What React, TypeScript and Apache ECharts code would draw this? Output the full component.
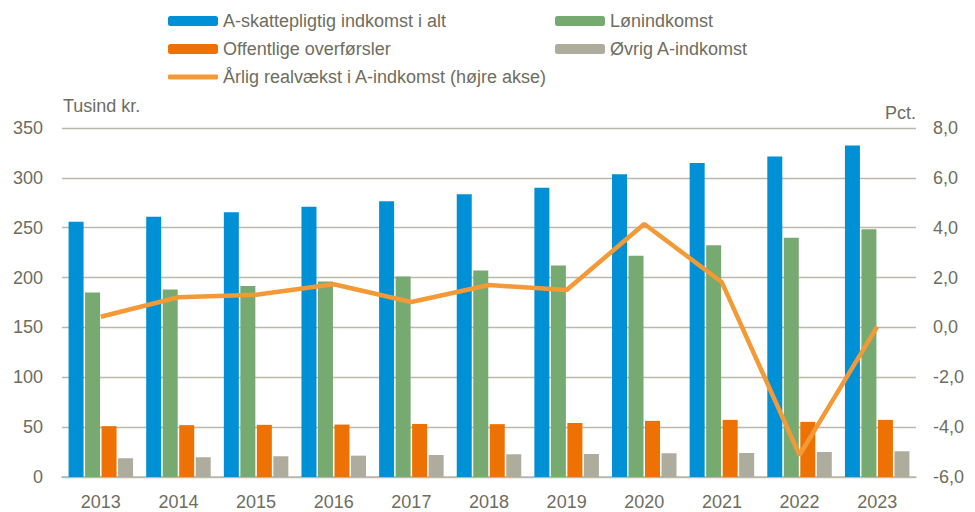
import React, { useEffect, useRef } from "react";
import * as echarts from "echarts";

const years = ["2013", "2014", "2015", "2016", "2017", "2018", "2019", "2020", "2021", "2022", "2023"];
const aSkat = [256, 261, 265.5, 271, 276.5, 283.5, 290, 303.5, 315, 321.5, 332.5];
const loen = [185, 188, 191.5, 196, 201, 207, 212, 222, 232.5, 240, 248.5];
const offentlige = [51, 52, 52.3, 52.6, 53.2, 53, 54.2, 56.3, 57.3, 55.3, 57.3];
const oevrig = [18.7, 19.8, 20.8, 21.4, 22.1, 22.8, 23.1, 23.8, 24.1, 25.1, 25.8];
const realvaekst = [0.43, 1.21, 1.31, 1.73, 1.02, 1.7, 1.5, 4.15, 1.81, -5.12, 0.03];

const names = [
  "A-skattepligtig indkomst i alt",
  "Lønindkomst",
  "Offentlige overførsler",
  "Øvrig A-indkomst",
  "Årlig realvækst i A-indkomst (højre akse)",
];

const FONT = "'Liberation Sans Narrow', 'Arial Narrow', 'Liberation Sans', Arial, sans-serif";
const TXT = "#6e6d5e";
const GRID = "#bab9aa";
const FS = 18;

export default function App() {
  const ref = useRef<HTMLDivElement>(null);
  useEffect(() => {
    if (!ref.current) return;
    const chart = echarts.init(ref.current, undefined, { renderer: "svg" });
    const legendBase = {
      itemWidth: 50,
      itemHeight: 10,
      itemGap: 5,
      textStyle: { fontFamily: FONT, fontSize: FS, color: TXT },
      selectedMode: false,
      padding: 0,
    };
    const barColors = ["#0090d6", "#77aa70", "#ee7203", "#aeac9c"];
    const barData = [aSkat, loen, offentlige, oevrig];
    chart.setOption({
      animation: false,
      textStyle: { fontFamily: FONT },
      grid: { left: 62, right: 59, top: 128, bottom: 35, containLabel: false },
      legend: [
        { ...legendBase, data: [names[0]], left: 168, top: 12 },
        { ...legendBase, data: [names[1]], left: 555, top: 12 },
        { ...legendBase, data: [names[2]], left: 168, top: 40 },
        { ...legendBase, data: [names[3]], left: 555, top: 40 },
        {
          ...legendBase,
          itemHeight: 5,
          data: [{ name: names[4], icon: "roundRect" }],
          left: 168,
          top: 68,
        },
      ],
      xAxis: {
        type: "category",
        data: years,
        axisTick: { show: false },
        axisLine: { lineStyle: { color: GRID, width: 1.5 } },
        axisLabel: { color: TXT, fontSize: FS, fontFamily: FONT, margin: 16 },
      },
      yAxis: [
        {
          type: "value",
          min: 0,
          max: 350,
          interval: 50,
          axisLabel: { color: TXT, fontSize: FS, fontFamily: FONT, margin: 19 },
          splitLine: { lineStyle: { color: GRID, width: 1.3 } },
          axisLine: { show: false },
          axisTick: { show: false },
        },
        {
          type: "value",
          min: -6,
          max: 8,
          interval: 2,
          axisLabel: {
            color: TXT,
            fontSize: FS,
            fontFamily: FONT,
            margin: 17,
            formatter: (v: number) => v.toFixed(1).replace(".", ","),
          },
          splitLine: { show: false },
          axisLine: { show: false },
          axisTick: { show: false },
        },
      ],
      graphic: [
        {
          type: "text",
          left: 63,
          top: 97,
          style: { text: "Tusind kr.", fill: TXT, font: `${FS}px ${FONT}` },
        },
        {
          type: "text",
          right: 59,
          top: 104,
          style: { text: "Pct.", fill: TXT, font: `${FS}px ${FONT}` },
        },
      ],
      series: [
        ...barData.map((d, i) => ({
          name: names[i],
          type: "bar",
          data: d,
          barWidth: 15,
          barGap: "10%",
          itemStyle: { color: barColors[i] },
        })),
        {
          name: names[4],
          type: "line",
          yAxisIndex: 1,
          data: realvaekst,
          symbol: "none",
          showSymbol: false,
          lineStyle: { color: "#f39a36", width: 4.5 },
          itemStyle: { color: "#f39a36" },
          z: 5,
        },
      ],
    });
    return () => chart.dispose();
  }, []);
  return (
    <div
      ref={ref}
      style={{ position: "fixed", left: 0, top: 0, width: 975, height: 512, background: "#fff" }}
    />
  );
}
